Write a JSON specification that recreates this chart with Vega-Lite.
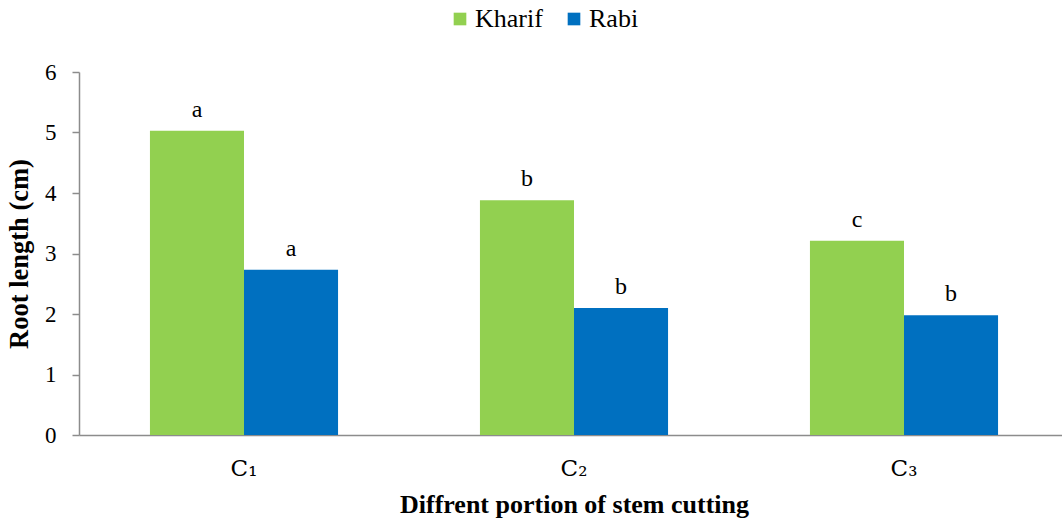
{
  "$schema": "https://vega.github.io/schema/vega-lite/v6.json",
  "autosize": {"type": "none"},
  "padding": {"left": 79, "top": 72, "right": 0, "bottom": 87},
  "width": 990,
  "height": 363,
  "background": "white",
  "config": {
    "view": {"stroke": null},
    "font": "Times New Roman"
  },
  "data": {
    "values": [
      {"cutting": "C₁", "season": "Kharif", "value": 5.03, "letter": "a"},
      {"cutting": "C₁", "season": "Rabi", "value": 2.73, "letter": "a"},
      {"cutting": "C₂", "season": "Kharif", "value": 3.88, "letter": "b"},
      {"cutting": "C₂", "season": "Rabi", "value": 2.10, "letter": "b"},
      {"cutting": "C₃", "season": "Kharif", "value": 3.21, "letter": "c"},
      {"cutting": "C₃", "season": "Rabi", "value": 1.98, "letter": "b"}
    ]
  },
  "encoding": {
    "x": {
      "field": "cutting",
      "type": "nominal",
      "sort": ["C₁", "C₂", "C₃"],
      "scale": {"paddingInner": 0.43, "paddingOuter": 0.215},
      "axis": {
        "title": "Diffrent portion of stem cutting",
        "titleFont": "Times New Roman",
        "titleFontSize": 26,
        "titleFontWeight": "bold",
        "titleColor": "black",
        "titlePadding": 11,
        "labelAngle": 0,
        "labelFont": "DejaVu Serif",
        "labelFontSize": 23,
        "labelColor": "black",
        "labelPadding": 22,
        "ticks": false,
        "domainColor": "#8c8c8c",
        "domainWidth": 1.5
      }
    },
    "xOffset": {"field": "season", "type": "nominal", "sort": ["Kharif", "Rabi"]}
  },
  "layer": [
    {
      "mark": {"type": "bar"},
      "encoding": {
        "y": {
          "field": "value",
          "type": "quantitative",
          "scale": {"domain": [0, 6]},
          "axis": {
            "title": "Root length (cm)",
            "titleFont": "Times New Roman",
            "titleFontSize": 26.5,
            "titleFontWeight": "bold",
            "titleColor": "black",
            "titlePadding": 11,
            "values": [0, 1, 2, 3, 4, 5, 6],
            "format": "d",
            "labelFont": "Times New Roman",
            "labelFontSize": 23,
            "labelColor": "black",
            "labelPadding": 16,
            "tickSize": 7,
            "tickColor": "#8c8c8c",
            "tickWidth": 1.5,
            "domainColor": "#8c8c8c",
            "domainWidth": 1.5,
            "grid": false
          }
        },
        "color": {
          "field": "season",
          "type": "nominal",
          "sort": ["Kharif", "Rabi"],
          "scale": {"domain": ["Kharif", "Rabi"], "range": ["#92D050", "#0070C0"]},
          "legend": {
            "title": null,
            "orient": "none",
            "direction": "horizontal",
            "legendX": 368,
            "legendY": -66,
            "symbolType": "square",
            "symbolSize": 160,
            "symbolStrokeWidth": 0,
            "labelFont": "Times New Roman",
            "labelFontSize": 26,
            "labelColor": "black",
            "labelOffset": 2,
            "columnPadding": 18
          }
        }
      }
    },
    {
      "mark": {"type": "text", "baseline": "bottom", "dy": -9, "fontSize": 24, "font": "Times New Roman", "color": "black"},
      "encoding": {
        "y": {"field": "value", "type": "quantitative"},
        "text": {"field": "letter"}
      }
    }
  ]
}
